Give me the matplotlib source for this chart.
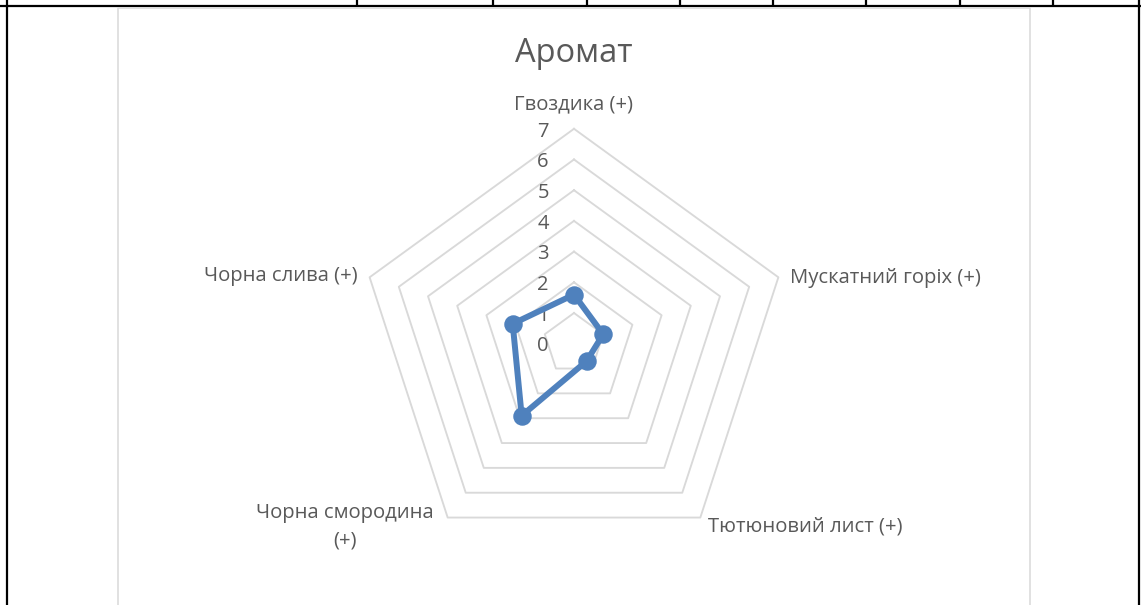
import numpy as np
import matplotlib
matplotlib.use("Agg")
import matplotlib.pyplot as plt

plt.rcParams['font.family'] = ['Open Sans', 'DejaVu Sans']

# Chart data
title = "Аромат"
categories = ["Гвоздика (+)", "Мускатний горіх (+)", "Тютюновий лист (+)",
              "Чорна смородина\n(+)", "Чорна слива (+)"]
values = [1.6, 1.0, 0.7, 2.9, 2.1]
ring_levels = [0, 1, 2, 3, 4, 5, 6, 7]
r_max = 7

W, H = 1141, 605
fig = plt.figure(figsize=(W / 100, H / 100), dpi=100)

# Sheet background: cell borders and the chart frame, in pixel units
page = fig.add_axes([0, 0, 1, 1])
page.set_xlim(0, W)
page.set_ylim(H, 0)
page.axis('off')
page.plot([0, W], [6, 6], color='black', lw=1.6, solid_capstyle='butt')
for x in [357, 493, 587, 680, 773, 866, 960, 1053]:
    page.plot([x, x], [0, 6], color='black', lw=1.6, solid_capstyle='butt')
page.plot([7, 7], [0, H], color='black', lw=1.6, solid_capstyle='butt')
page.plot([1139, 1139], [0, H], color='black', lw=1.6, solid_capstyle='butt')
page.plot([117.5, 117.5, 1029.5, 1029.5], [H, 7.5, 7.5, H], color='#d9d9d9', lw=1.1)

# Radar axes: centre at (574, 343.7) px, 30.7 px per unit
cx, cy, unit = 574, 343.7, 30.7
span = 8
left = (cx - span * unit) / W
bottom = 1 - (cy + span * unit) / H
ax = fig.add_axes([left, bottom, 2 * span * unit / W, 2 * span * unit / H])
ax.set_xlim(-span, span)
ax.set_ylim(-span, span)
ax.axis('off')

n = len(categories)
angles = np.arange(n) * 2 * np.pi / n  # clockwise from the top


def to_xy(r, a):
    return r * np.sin(a), r * np.cos(a)


# Pentagonal grid rings
for lvl in ring_levels[1:]:
    a = np.append(angles, angles[0])
    gx, gy = to_xy(lvl, a)
    ax.plot(gx, gy, color='#d9d9d9', lw=1.35, zorder=1)

# Value axis labels
for lvl in ring_levels:
    ax.text(-0.82, lvl - 0.09, str(lvl), ha='right', va='center', fontsize=14.5,
            color='#595959')

# Data series
a = np.append(angles, angles[0])
v = np.append(values, values[0])
sx, sy = to_xy(v, a)
ax.plot(sx, sy, color='#4f81bd', lw=4.3, zorder=3, solid_joinstyle='round')
ax.plot(sx[:-1], sy[:-1], 'o', color='#4f81bd', ms=12.3, zorder=4)

# Category labels
lab_kw = dict(fontsize=14.6, color='#595959')
vx, vy = to_xy(r_max, angles)
ax.text(vx[0], vy[0] + 0.8, categories[0], ha='center', va='center', **lab_kw)
ax.text(vx[1] + 0.37, vy[1] - 0.03, categories[1], ha='left', va='center', **lab_kw)
ax.text(vx[2] + 0.24, vy[2] - 0.3, categories[2], ha='left', va='center', **lab_kw)
ax.text(vx[3] - 3.35, vy[3] - 0.3, categories[3], ha='center', va='center',
        multialignment='center', linespacing=1.5, **lab_kw)
ax.text(vx[4] - 0.4, vy[4] + 0.03, categories[4], ha='right', va='center', **lab_kw)

fig.text(cx / W, 1 - 53 / H, title, ha='center', va='center', fontsize=23.5,
         color='#595959')

fig.savefig("out.png", dpi=100)
